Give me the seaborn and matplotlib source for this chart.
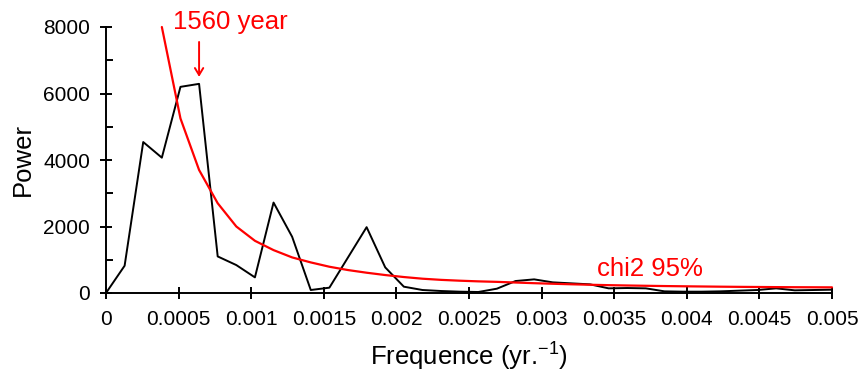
import numpy as np
import matplotlib
matplotlib.use("Agg")
import matplotlib.pyplot as plt
import seaborn as sns

# spectrum sampled at harmonics of a 7800-yr record
record_years = 7800
freq = np.arange(40) / record_years

power = [0, 820, 4540, 4070, 6200, 6290, 1100, 840, 470, 2720,
         1690, 90, 160, 1070, 1980, 770, 190, 90, 60, 40,
         30, 130, 360, 410, 320, 290, 260, 140, 150, 140,
         50, 40, 40, 50, 70, 90, 140, 80, 90, 100]

# chi2 95% confidence curve, starts at the 4th harmonic
chi2_start = 3
chi2_95 = [8000, 5250, 3700, 2700, 2000, 1570, 1290, 1070, 920, 790,
           690, 610, 540, 480, 430, 395, 370, 350, 335, 315,
           295, 278, 262, 248, 236, 226, 217, 209, 202, 196,
           190, 185, 181, 177, 174, 172, 170]

xticks = [0, 0.0005, 0.001, 0.0015, 0.002, 0.0025, 0.003, 0.0035, 0.004, 0.0045, 0.005]
xtick_labels = ["0", "0.0005", "0.001", "0.0015", "0.002", "0.0025", "0.003",
                "0.0035", "0.004", "0.0045", "0.005"]
yticks = [0, 2000, 4000, 6000, 8000]
peak_index = 5  # 1/1560 yr

sns.set_style("ticks")
plt.rcParams["font.family"] = ["Liberation Sans", "DejaVu Sans"]
plt.rcParams["mathtext.default"] = "regular"
for key in ["text.color", "axes.labelcolor", "xtick.color", "ytick.color", "axes.edgecolor"]:
    plt.rcParams[key] = "black"

fig = plt.figure(figsize=(8.68, 3.81), dpi=100)
ax = fig.add_axes([106 / 868, 88 / 381, 726 / 868, 266 / 381])

sns.lineplot(x=freq, y=power, color="black", lw=1.4, ax=ax, clip_on=False)
sns.lineplot(x=freq[chi2_start:], y=chi2_95, color="#ff0000", lw=1.6, ax=ax, clip_on=False)

ax.set_xlim(0, 0.005)
ax.set_ylim(0, 8000)
ax.set_xticks(xticks)
ax.set_xticklabels(xtick_labels)
ax.set_yticks(yticks)
ax.set_yticks([1000, 3000, 5000, 7000], minor=True)

sns.despine(ax=ax)
for s in ["left", "bottom"]:
    ax.spines[s].set_linewidth(1.4)
ax.tick_params(axis="both", which="major", direction="inout", length=9, width=1.4,
               labelsize=15)
ax.tick_params(axis="x", which="major", pad=8)
ax.tick_params(axis="y", which="major", pad=7)
ax.tick_params(axis="y", which="minor", direction="in", length=5, width=1.4, left=True)

ax.set_xlabel("Frequence (yr.$^{-1}$)", fontsize=18.5, labelpad=8)
ax.set_ylabel("Power", fontsize=18.5, labelpad=6)

ax.text(0.000461, 7940, "1560 year", color="#ff0000", fontsize=18.5, va="baseline",
        ha="left", clip_on=False)
ax.annotate("", xy=(freq[peak_index], 6500), xytext=(freq[peak_index], 7550),
            arrowprops=dict(arrowstyle="->,head_length=0.5,head_width=0.3",
                            color="#ff0000", lw=1.4, shrinkA=0, shrinkB=0),
            annotation_clip=False)
ax.text(0.003382, 510, "chi2 95%", color="#ff0000", fontsize=18.5, va="baseline", ha="left")

fig.savefig("out.png", dpi=100)
